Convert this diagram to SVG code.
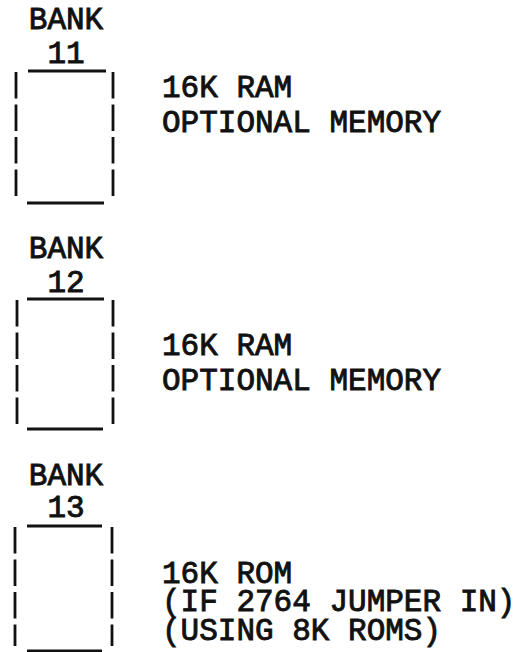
<svg xmlns="http://www.w3.org/2000/svg" width="524" height="652" viewBox="0 0 524 652">
<style>
text { font-family: "Liberation Mono", "Courier New", monospace; font-size: 31px; font-weight: normal; fill: #111; stroke: #111; stroke-width: 0.9; }
.c { text-anchor: middle; }
.h { stroke: #111; stroke-width: 3; fill: none; }
.v { stroke: #111; stroke-width: 2.8; fill: none; stroke-dasharray: 26.5 6; }
</style>
<rect width="524" height="652" fill="#fff"/>
<g id="bank11">
  <text class="c" x="66" y="29">BANK</text>
  <text class="c" x="66" y="63">11</text>
  <line class="h" x1="28" y1="71" x2="106" y2="71"/>
  <line class="v" x1="16" y1="72" x2="16" y2="198"/>
  <line class="v" x1="113" y1="72" x2="113" y2="198"/>
  <line class="h" x1="27" y1="203" x2="104" y2="203"/>
</g>
<g id="label11">
  <text x="162" y="97">16K RAM</text>
  <text x="162" y="132">OPTIONAL MEMORY</text>
</g>
<g id="bank12">
  <text class="c" x="66" y="258">BANK</text>
  <text class="c" x="66" y="292">12</text>
  <line class="h" x1="27" y1="299" x2="104" y2="299"/>
  <line class="v" x1="17" y1="300" x2="17" y2="424"/>
  <line class="v" x1="113" y1="300" x2="113" y2="424"/>
  <line class="h" x1="27" y1="429" x2="103" y2="429"/>
</g>
<g id="label12">
  <text x="162" y="355">16K RAM</text>
  <text x="162" y="390">OPTIONAL MEMORY</text>
</g>
<g id="bank13">
  <text class="c" x="66" y="485">BANK</text>
  <text class="c" x="66" y="517">13</text>
  <line class="h" x1="27" y1="526" x2="102" y2="526"/>
  <line class="v" x1="15" y1="527" x2="15" y2="646"/>
  <line class="v" x1="112" y1="527" x2="112" y2="646"/>
  <line class="h" x1="27" y1="651" x2="102" y2="651"/>
</g>
<g id="label13">
  <text x="162" y="583">16K ROM</text>
  <text x="162" y="611">(IF 2764 JUMPER IN)</text>
  <text x="162" y="640">(USING 8K ROMS)</text>
</g>
<g id="connectors"></g>
</svg>
